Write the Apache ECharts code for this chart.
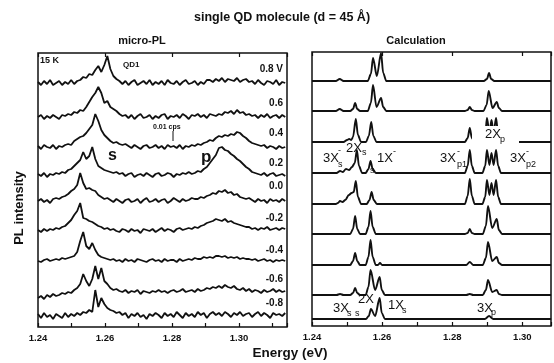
<!DOCTYPE html>
<html>
<head>
<meta charset="utf-8">
<script src="https://cdn.jsdelivr.net/npm/echarts@6.0.0/dist/echarts.min.js"></script>
<style>
  html, body { margin: 0; padding: 0; background: #fff; }
  #chart { width: 554px; height: 363px; }
</style>
</head>
<body>
<div id="chart"></div>
<script>
const plStart = 1.24;
const plStep = 0.0009;
const plBias = ['0.8 V', '0.6', '0.4', '0.2', '0.0', '-0.2', '-0.4', '-0.6', '-0.8'];
const plOffset = [244, 210, 180, 152, 126, 96, 66, 34, 11];

const pl08 = [
  1, -2, 2, -1, 3, -2, 0, 2, -2, 1,
  -1, 3, -1, 2, 3, 6, 5, 9, 8, 13,
  17, 11, 18, 27, 14, 7, 4, 2, -1, 2,
  -2, 1, 3, -2, 0, 2, -1, 3, -2, 1,
  -1, 2, -2, 3, 0, -1, 2, -2, 1, 3,
  -1, 0, 2, -2, 1, -1, 3, 3, 1, 4,
  2, 5, 1, 4, 3, 2, 5, 1, 3, 4,
  1, 2, -1, 3, 0, -2, 2, 1, -1, 3,
  -2, 1, 0];
const pl06 = [
  0, 2, -2, 1, -1, 2, 0, -2, 2, 1,
  3, 2, 5, 4, 7, 6, 10, 15, 20, 24,
  30, 24, 14, 16, 10, 8, 6, 3, 1, 2,
  -1, 2, -2, 1, 3, -1, 0, 2, -2, 1,
  -1, 2, 3, -2, 1, 0, 2, -1, 3, 1,
  -2, 2, 1, 3, 0, 2, -1, 3, 2, 1,
  3, 2, 5, 4, 6, 3, 7, 4, 5, 2,
  3, 1, 2, -1, 2, 0, 3, -1, 1, 2,
  -1, 2, 0];
const pl04 = [
  1, -2, 2, 0, -1, 2, -2, 1, 0, 2,
  3, 2, 6, 8, 10, 11, 14, 18, 22, 33,
  26, 17, 12, 9, 6, 4, 5, 3, 2, 3,
  1, -1, 2, 0, -2, 1, 2, -1, 0, 2,
  -1, 1, -2, 2, 0, 1, -1, 2, -2, 1,
  0, 2, 1, 3, 2, 4, 5, 7, 6, 9,
  11, 10, 12, 11, 13, 12, 15, 14, 11, 9,
  6, 4, 3, 2, 1, 2, -1, 1, 0, -2,
  1, -1, 0];
const pl02 = [
  1, -1, 2, -2, 1, 0, 2, 1, 3, 2,
  5, 6, 9, 12, 15, 23, 16, 19, 28, 16,
  9, 7, 5, 4, 3, 2, 3, 1, 2, -1,
  1, 2, -2, 0, 1, -1, 2, 0, -2, 1,
  2, -1, 0, 2, 1, -2, 1, 0, 2, 1,
  3, 1, 2, 4, 3, 6, 8, 12, 16, 20,
  27, 28, 25, 24, 21, 19, 16, 14, 11, 8,
  6, 3, 2, 1, 0, 2, -1, 1, 2, -1,
  0, 1, -1];
const pl00 = [
  0, 2, -1, 1, -2, 2, 3, 2, 4, 5,
  7, 10, 12, 16, 28, 18, 12, 13, 11, 10,
  6, 4, 2, 3, 1, -1, 2, 0, -2, 1,
  2, -1, 0, 2, -2, 1, 3, -1, 0, 2,
  -1, 1, 2, -2, 0, 3, 1, -1, 2, 0,
  1, 3, 2, 2, 4, 3, 5, 6, 8, 7,
  10, 9, 11, 8, 9, 6, 7, 4, 3, 2,
  3, 1, -1, 2, 0, 1, -2, 2, 0, 1,
  -1, 2, 0];
const plM02 = [
  1, -1, 2, 0, 2, 1, 3, 2, 4, 5,
  8, 11, 16, 20, 28, 13, 12, 10, 9, 7,
  5, 4, 2, 3, 1, 2, 0, -1, 2, 1,
  -1, 2, 0, 1, -2, 2, 1, 0, 2, -1,
  1, 3, 0, 2, 1, -1, 2, 3, 1, 2,
  3, 2, 4, 3, 5, 6, 8, 9, 10, 12,
  11, 10, 12, 9, 10, 8, 7, 6, 5, 4,
  4, 2, 3, 1, 3, 2, 4, 1, 2, 3,
  1, 3, 2];
const plM04 = [
  0, -1, 1, 2, 0, 1, 2, 1, 3, 2,
  3, 4, 5, 9, 20, 29, 15, 12, 18, 11,
  6, 4, 3, 2, 1, 2, 0, 1, -1, 2,
  0, 1, -1, 2, 1, 0, -1, 1, 2, 0,
  1, -1, 2, 0, 1, 1, -1, 2, 0, 1,
  2, 1, 3, 2, 2, 4, 3, 4, 3, 5,
  5, 4, 5, 3, 4, 3, 4, 2, 3, 2,
  2, 1, 2, 0, 1, 2, 0, 1, -1, 1,
  0, 1, 0];
const plM06 = [
  -5, -3, -6, -2, -4, -1, -3, -2, 0, -1,
  1, 0, 3, 5, 9, 19, 12, 7, 14, 27,
  14, 25, 12, 9, 5, 3, 4, 2, 1, 3,
  0, 2, 1, 3, -1, 2, 1, 0, 2, 1,
  3, 1, 2, 0, 2, 3, 1, 2, 4, 1,
  2, 3, 1, 4, 2, 3, 5, 4, 6, 5,
  7, 5, 8, 6, 5, 7, 4, 3, 5, 2,
  4, 1, 3, 2, 0, 3, 1, 2, 4, 1,
  3, 1, 2];
const plM08 = [
  2, -2, 3, -1, 1, -3, 2, 0, -2, 3,
  -1, 2, 0, 3, 1, 4, 3, 6, 4, 26,
  9, 18, 12, 8, 6, 5, 3, 4, 1, 3,
  -2, 2, 0, 3, -1, 1, -3, 2, 0, 3,
  1, -2, 3, 0, 2, -1, 4, 1, -2, 3,
  0, 2, -1, 4, 1, 3, -2, 2, 4, 1,
  3, 0, 4, 2, -1, 3, 1, 4, 0, 2,
  3, -1, 2, 4, 0, 3, 1, -2, 3, 1,
  2, 0, 3];
const plSpectra = [pl08, pl06, pl04, pl02, pl00, plM02, plM04, plM06, plM08];

// calculated spectra: [energy (eV), intensity] points, same bias order
const calcOffset = [245, 215, 184, 153, 122, 92, 61, 31, 7];
const calc08 = [[1.2400,0],[1.2468,0],[1.2479,2],[1.2490,0],
  [1.2559,0],[1.2568,7],[1.2574,23],[1.2585,5],[1.2597,28],[1.2603,8],[1.2612,0],
  [1.2890,0],[1.2899,2],[1.2905,8],[1.2911,2],[1.2920,0],[1.3082,0]];
const calc06 = [[1.2400,0],[1.2468,0],[1.2479,2],[1.2490,0],
  [1.2509,0],[1.2517,2],[1.2523,8],[1.2529,2],[1.2537,0],
  [1.2559,0],[1.2568,8],[1.2574,26],[1.2584,4],[1.2597,13],[1.2603,4],[1.2612,0],
  [1.2836,0],[1.2844,1],[1.2850,4],[1.2856,1],[1.2864,0],
  [1.2889,0],[1.2898,6],[1.2904,20],[1.2915,3],[1.2927,9],[1.2933,3],[1.2942,0],[1.3082,0]];
const calc04 = [[1.2400,0],[1.2490,0],[1.2500,2],[1.2506,3],[1.2512,2],
  [1.2517,5],[1.2525,23],[1.2531,7],[1.2540,0],
  [1.2554,0],[1.2562,6],[1.2569,20],[1.2575,6],[1.2584,0],
  [1.2836,0],[1.2844,4],[1.2850,14],[1.2856,4],[1.2864,0],
  [1.2886,0],[1.2894,7],[1.2899,24],[1.2906,9],[1.2912,22],[1.2918,9],[1.2925,24],[1.2931,7],[1.2939,0],[1.3082,0]];
const calc02 = [[1.2400,0],[1.2470,0],[1.2480,2],[1.2488,1],[1.2497,4],[1.2506,3],
  [1.2514,6],[1.2522,10],[1.2528,23],[1.2534,7],[1.2543,0],
  [1.2553,0],[1.2561,4],[1.2567,12],[1.2573,4],[1.2582,0],
  [1.2836,0],[1.2844,7],[1.2850,23],[1.2856,7],[1.2864,0],
  [1.2886,0],[1.2894,7],[1.2899,23],[1.2906,8],[1.2912,20],[1.2918,8],[1.2925,23],[1.2931,7],[1.2939,0],[1.3082,0]];
const calc00 = [[1.2400,0],[1.2468,0],[1.2474,1],[1.2480,3],[1.2487,2],[1.2495,4],[1.2505,9],[1.2513,11],
  [1.2519,12],[1.2525,23],[1.2531,7],[1.2540,0],
  [1.2556,0],[1.2564,4],[1.2570,12],[1.2576,4],[1.2585,0],
  [1.2836,0],[1.2844,8],[1.2850,25],[1.2856,8],[1.2864,0],
  [1.2886,0],[1.2894,7],[1.2899,24],[1.2906,9],[1.2912,21],[1.2918,9],[1.2925,24],[1.2931,7],[1.2939,0],[1.3082,0]];
const calcM02 = [[1.2400,0],[1.2509,0],[1.2517,5],[1.2523,18],[1.2529,5],[1.2537,0],
  [1.2553,0],[1.2561,7],[1.2567,23],[1.2573,7],[1.2582,0],
  [1.2836,0],[1.2844,1],[1.2850,5],[1.2856,1],[1.2864,0],
  [1.2887,0],[1.2896,8],[1.2902,28],[1.2914,6],[1.2927,15],[1.2933,4],[1.2942,0],[1.3082,0]];
const calcM04 = [[1.2400,0],[1.2509,0],[1.2517,4],[1.2523,12],[1.2529,4],[1.2537,0],
  [1.2553,0],[1.2561,8],[1.2567,25],[1.2573,8],[1.2582,0],[1.2588,0],[1.2594,2],[1.2600,0],
  [1.2840,0],[1.2850,3],[1.2860,0],
  [1.2887,0],[1.2896,7],[1.2902,23],[1.2914,4],[1.2927,8],[1.2933,2],[1.2942,0],[1.3082,0]];
const calcM06 = [[1.2400,0],[1.2470,0],[1.2480,1],[1.2490,0],
  [1.2509,0],[1.2517,2],[1.2523,7],[1.2529,2],[1.2537,0],
  [1.2553,0],[1.2561,8],[1.2567,25],[1.2580,5],[1.2593,18],[1.2599,5],[1.2608,0],
  [1.2840,0],[1.2850,1],[1.2860,0],
  [1.2887,0],[1.2896,5],[1.2902,15],[1.2914,3],[1.2927,5],[1.2933,1],[1.2942,0],[1.3082,0]];
const calcM08 = [[1.2400,0],[1.2554,0],[1.2562,3],[1.2568,10],[1.2580,3],[1.2593,21],[1.2599,6],[1.2608,0],
  [1.2893,0],[1.2905,3],[1.2917,0],[1.3082,0]];
const calcSpectra = [calc08, calc06, calc04, calc02, calc00, calcM02, calcM04, calcM06, calcM08];

const FONT = "'Liberation Sans', Arial, sans-serif";
const INK = '#111';

const isLabelTick = v => {
  const h = Math.round(v * 100);
  return Math.abs(v * 100 - h) < 1e-6 && h % 2 === 0;
};

function bottomAxis(grid, max) {
  return {
    type: 'value', gridIndex: grid, position: 'bottom', min: 1.24, max: max, interval: 0.01,
    axisLine: {show: false}, splitLine: {show: false},
    axisTick: {inside: true, length: 4, lineStyle: {color: INK, width: 1.2}},
    axisLabel: {
      margin: 6, color: INK, fontSize: 9.5, fontWeight: 'bold', fontFamily: FONT,
      formatter: v => isLabelTick(v) ? v.toFixed(2) : ''
    }
  };
}
function topAxis(grid, max) {
  return {
    type: 'value', gridIndex: grid, position: 'top', min: 1.24, max: max, interval: 0.02,
    axisLine: {show: false}, splitLine: {show: false},
    axisTick: {inside: true, length: 4, lineStyle: {color: INK, width: 1.2}},
    axisLabel: {show: false}
  };
}

function txt(x, y, text, size, weight, align) {
  return {
    type: 'text', x: x, y: y, z: 100,
    style: {
      text: text, fill: INK,
      font: (weight || 'normal') + ' ' + size + 'px ' + FONT,
      textAlign: align || 'left', align: align || 'left',
      textVerticalAlign: 'middle', verticalAlign: 'middle'
    }
  };
}

const biasY = [69, 103, 133, 163, 186, 218, 250, 279, 303];
const graphics = [
  txt(282, 18, 'single QD molecule (d = 45 Å)', 12.5, 'bold', 'center'),
  txt(142, 41, 'micro-PL', 11, 'bold', 'center'),
  txt(416, 41, 'Calculation', 11, 'bold', 'center'),
  txt(290, 353, 'Energy (eV)', 13.5, 'bold', 'center'),
  Object.assign(txt(19, 208, 'PL intensity', 13, 'bold', 'center'), {rotation: Math.PI / 2}),
  txt(40, 61, '15 K', 9, 'bold'),
  txt(123, 65, 'QD1', 8, 'bold'),
  txt(153, 127, '0.01 cps', 7, 'bold'),
  {type: 'line', z: 100, shape: {x1: 173, y1: 131, x2: 173, y2: 141}, style: {stroke: INK, lineWidth: 1}},
  txt(108, 156, 's', 16, 'bold'),
  txt(201, 157, 'p', 17, 'bold'),
  // white patch behind the 2Xp label
  {type: 'rect', z: 50, shape: {x: 472, y: 126, width: 47, height: 21}, style: {fill: '#fff'}},
  txt(323, 158, '3X', 13), txt(338, 151, '-', 9), txt(338, 165, 's', 9),
  txt(346, 148, '2X', 13), txt(362, 153, 's', 9),
  txt(377, 158, '1X', 13), txt(393, 152, '-', 9), txt(370, 171, 's', 9),
  txt(440, 158, '3X', 13), txt(457, 152, '-', 9), txt(457, 165, 'p1', 9),
  txt(485, 134, '2X', 13), txt(500, 140, 'p', 9),
  txt(510, 158, '3X', 13), txt(526, 152, '-', 9), txt(526, 165, 'p2', 9),
  txt(333, 308, '3X', 13), txt(347, 314, 's', 9), txt(355, 314, 's', 9),
  txt(358, 299, '2X', 13),
  txt(388, 305, '1X', 13), txt(402, 311, 's', 9),
  txt(477, 308, '3X', 13), txt(491, 313, 'p', 9)
];
plBias.forEach((b, k) => graphics.push(txt(283, biasY[k], b, 10, 'bold', 'right')));

const series = [];
plSpectra.forEach((vals, k) => {
  series.push({
    type: 'line', xAxisIndex: 0, yAxisIndex: 0, showSymbol: false, silent: true,
    lineStyle: {color: INK, width: 1.8},
    data: vals.map((v, i) => [plStart + i * plStep, v + plOffset[k]])
  });
});
calcSpectra.forEach((pts, k) => {
  series.push({
    type: 'line', xAxisIndex: 2, yAxisIndex: 1, showSymbol: false, silent: true,
    smooth: 0.3, smoothMonotone: 'x',
    lineStyle: {color: INK, width: 1.9},
    data: pts.map(p => [p[0], p[1] + calcOffset[k]])
  });
});

const chart = echarts.init(document.getElementById('chart'));
chart.setOption({
  animation: false,
  backgroundColor: '#fff',
  grid: [
    {left: 38, top: 53, width: 249, height: 274, show: true, borderColor: INK, borderWidth: 1.5},
    {left: 312, top: 52, width: 242, height: 274, show: true, borderColor: INK, borderWidth: 1.5}
  ],
  xAxis: [
    bottomAxis(0, 1.24 + 249 / 3350),
    topAxis(0, 1.24 + 249 / 3350),
    bottomAxis(1, 1.24 + 242 / 3550),
    topAxis(1, 1.24 + 242 / 3550)
  ],
  yAxis: [
    {type: 'value', gridIndex: 0, min: 0, max: 274, show: false},
    {type: 'value', gridIndex: 1, min: 0, max: 274, show: false}
  ],
  graphic: graphics,
  series: series
});
</script>
</body>
</html>
